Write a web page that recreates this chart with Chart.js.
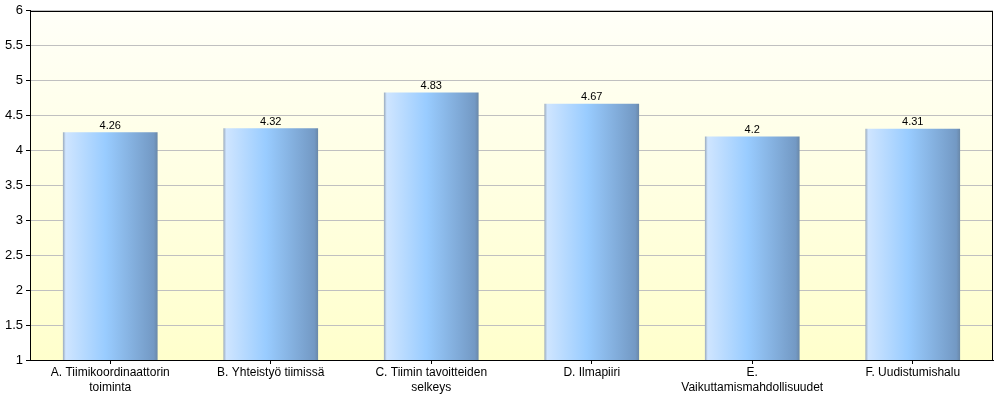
<!DOCTYPE html>
<html lang="fi">
<head>
<meta charset="UTF-8">
<title>Tiimikysely</title>
<script src="https://cdn.jsdelivr.net/npm/chart.js"></script>
<style>
    html, body { margin: 0; padding: 0; background: #ffffff; }
    #wrap { width: 1000px; height: 400px; position: relative; }
</style>
</head>
<body>
<div id="wrap"><canvas id="chart"></canvas></div>
<script>
    // data
    const categories = [
        ["A. Tiimikoordinaattorin", "toiminta"],
        "B. Yhteistyö tiimissä",
        ["C. Tiimin tavoitteiden", "selkeys"],
        "D. Ilmapiiri",
        ["E.", "Vaikuttamismahdollisuudet"],
        "F. Uudistumishalu"
    ];
    const values = [4.26, 4.32, 4.83, 4.67, 4.2, 4.31];
    const yMin = 1, yMax = 6, yStep = 0.5;

    const barPct = 0.59;
    const fontFam = "'Liberation Sans', Arial, sans-serif";

    function barGradient(ctx) {
        const chart = ctx.chart;
        const x = chart.scales.x;
        if (!x || !chart.chartArea) return "#99ccff";
        const center = x.getPixelForValue(ctx.dataIndex);
        const w = (chart.chartArea.width / categories.length) * barPct;
        const g = chart.ctx.createLinearGradient(center - w / 2, 0, center + w / 2, 0);
        g.addColorStop(0, "#9aaabb");
        g.addColorStop(0.03, "#cfe5ff");
        g.addColorStop(0.45, "#99ccff");
        g.addColorStop(0.96, "#7399c4");
        g.addColorStop(1, "#6a88a8");
        return g;
    }

    const plotBackground = {
        id: "plotBackground",
        beforeDraw(chart) {
            const a = chart.chartArea;
            const c = chart.ctx;
            const g = c.createLinearGradient(0, a.top, 0, a.bottom);
            g.addColorStop(0, "#fffff8");
            g.addColorStop(1, "#ffffcc");
            c.save();
            c.fillStyle = g;
            c.fillRect(a.left, a.top, a.width, a.height);
            c.restore();
        },
        afterDraw(chart) {
            const a = chart.chartArea;
            const c = chart.ctx;
            c.save();
            c.strokeStyle = "#000000";
            c.lineWidth = 1;
            c.strokeRect(Math.round(a.left) + 0.5, Math.round(a.top) + 0.5,
                Math.round(a.width) - 1, Math.round(a.height));
            c.restore();
        }
    };

    const valueLabels = {
        id: "valueLabels",
        afterDatasetsDraw(chart) {
            const c = chart.ctx;
            const meta = chart.getDatasetMeta(0);
            c.save();
            c.font = "11px " + fontFam;
            c.fillStyle = "#000000";
            c.textAlign = "center";
            c.textBaseline = "bottom";
            meta.data.forEach((bar, i) => {
                c.fillText(String(values[i]), bar.x, bar.y - 1);
            });
            c.restore();
        }
    };

    new Chart(document.getElementById("chart"), {
        type: "bar",
        data: {
            labels: categories,
            datasets: [{
                data: values,
                backgroundColor: barGradient,
                borderWidth: 0,
                categoryPercentage: 1,
                barPercentage: barPct
            }]
        },
        options: {
            responsive: true,
            maintainAspectRatio: false,
            animation: false,
            layout: { padding: { top: 2, right: 7, left: 0, bottom: 0 } },
            plugins: {
                legend: { display: false },
                tooltip: { enabled: false }
            },
            scales: {
                x: {
                    afterFit: s => { s.height = 40; },
                    grid: { offset: false, drawOnChartArea: false, tickLength: 4, tickColor: "#000000" },
                    border: { color: "#000000" },
                    ticks: {
                        color: "#000000",
                        maxRotation: 0,
                        autoSkip: false,
                        padding: 1,
                        font: { family: fontFam, size: 12, lineHeight: 1.25 }
                    }
                },
                y: {
                    min: yMin,
                    max: yMax,
                    afterFit: s => { s.width = 30; },
                    border: { color: "#000000" },
                    grid: { color: "#c0c0c0", tickLength: 4, tickColor: "#000000" },
                    ticks: {
                        stepSize: yStep,
                        color: "#000000",
                        padding: 3,
                        callback: v => String(v),
                        font: { family: fontFam, size: 13 }
                    }
                }
            }
        },
        plugins: [plotBackground, valueLabels]
    });
</script>
</body>
</html>
